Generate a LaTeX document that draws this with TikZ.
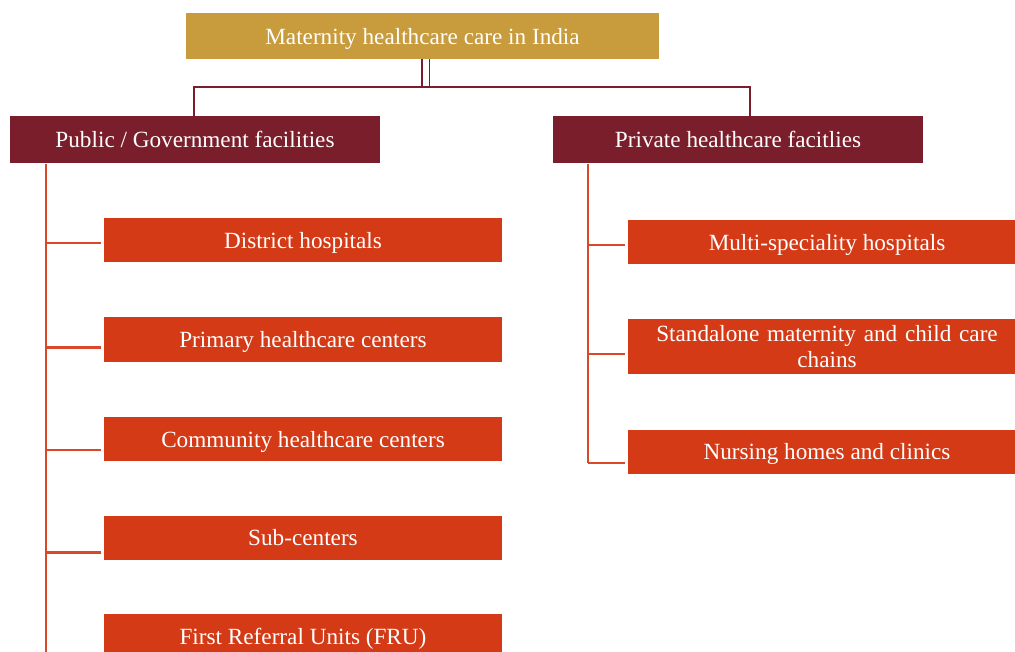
\documentclass[tikz,border=0pt]{standalone}
\usepackage{fontspec}
\setmainfont{Liberation Serif}
\usetikzlibrary{positioning}
\definecolor{goldbox}{RGB}{200,155,60}
\definecolor{wine}{RGB}{123,30,43}
\definecolor{rust}{RGB}{212,58,22}
\definecolor{rustline}{RGB}{218,72,42}

\begin{document}
\begin{tikzpicture}[
  x=0.025cm, y=-0.025cm,
  every node/.style={font=\fontsize{16.5}{17}\selectfont, text=white, align=center, inner sep=0pt, text depth=0pt},
  root/.style={rectangle, fill=goldbox, minimum width=11.825cm, minimum height=1.15cm},
  sector/.style={rectangle, fill=wine, minimum width=9.25cm, minimum height=1.175cm},
  facility/.style={rectangle, fill=rust, minimum width=9.95cm, minimum height=1.1cm},
  topline/.style={wine, line width=2pt},
  branch/.style={rustline, line width=2pt}
]
\useasboundingbox (0,0) rectangle (1015,652);
\clip (0,0) rectangle (1015,652);

% Root
\node[root] (india) at (422.5,36) {Maternity healthcare care in India};

% Sectors
\node[sector] (public) at (195,139.5) {Public / Government facilities};
\node[sector] (private) at (738,139.5) {Private healthcare facitlies};

% Public facilities
\node[facility] (district) at (303,240) {District hospitals};
\node[facility] (primary) at (303,339.5) {Primary healthcare centers};
\node[facility] (community) at (303,439) {Community healthcare centers};
\node[facility] (subcenter) at (303,537.5) {Sub-centers};
\node[facility] (fru) at (303,636) {First Referral Units (FRU)};

% Private facilities
\node[facility] (multi) at (827,242) {Multi-speciality hospitals};
\node[facility, minimum height=1.375cm, text width=9.6cm, text depth=] (standalone) at (827,346.5)
  {Standalone maternity and child care\\[2pt] chains};
\node[facility] (nursing) at (827,451.5) {Nursing homes and clinics};

% Root to sectors
\coordinate (join) at (425.5,87);
\coordinate (pubtop) at (194,116);
\coordinate (privtop) at (750,116);
\draw[wine, line width=1.3pt, double=white, double distance=0.15cm] (india.south -| join) -- (join);
\draw[topline] (pubtop) |- (join) -| (privtop);

% Public trunk
\coordinate (pubtrunk) at (46,164);
\coordinate (pubend) at (46,660);
\draw[branch] (pubtrunk) -- (pubend);
\foreach \fac/\dy in {district/3, primary/8, community/11, subcenter/15} {
  \path ([yshift=-\dy*0.025cm]\fac.west) coordinate (\fac-in);
  \draw[branch] (pubtrunk |- \fac-in) -- ([xshift=-0.06cm]\fac-in);
}

% Private trunk
\coordinate (privtrunk) at (588,164);
\coordinate (privend) at (588,463);
\draw[branch] (privtrunk) -- (privend);
\foreach \fac/\dy in {multi/3, standalone/7.5, nursing/11.5} {
  \path ([yshift=-\dy*0.025cm]\fac.west) coordinate (\fac-in);
  \draw[branch] (privtrunk |- \fac-in) -- ([xshift=-0.07cm]\fac-in);
}

\end{tikzpicture}
\end{document}
